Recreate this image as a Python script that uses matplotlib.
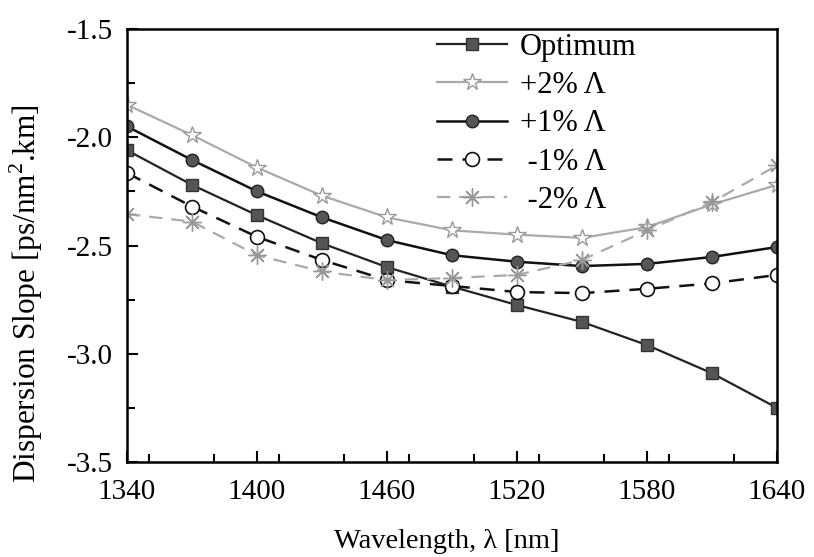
import numpy as np
import matplotlib.pyplot as plt
from matplotlib.ticker import MultipleLocator

plt.rcParams['font.family'] = ['Liberation Serif', 'DejaVu Serif']
plt.rcParams['axes.unicode_minus'] = False
plt.rcParams['mathtext.fontset'] = 'custom'
plt.rcParams['mathtext.rm'] = 'Liberation Serif'

# wavelength points [nm]
wl = [1340, 1370, 1400, 1430, 1460, 1490, 1520, 1550, 1580, 1610, 1640]

# dispersion slope [ps/nm^2.km]
optimum = [-2.06, -2.22, -2.36, -2.49, -2.60, -2.69, -2.775, -2.853, -2.96, -3.09, -3.25]
plus2 = [-1.85, -1.99, -2.14, -2.27, -2.37, -2.43, -2.45, -2.465, -2.415, -2.31, -2.22]
plus1 = [-1.95, -2.105, -2.25, -2.37, -2.475, -2.545, -2.575, -2.595, -2.585, -2.553, -2.507]
minus1 = [-2.165, -2.32, -2.46, -2.567, -2.66, -2.687, -2.715, -2.72, -2.70, -2.675, -2.636]
minus2 = [-2.355, -2.39, -2.545, -2.62, -2.66, -2.65, -2.636, -2.567, -2.43, -2.30, -2.13]

xticks = [1340, 1400, 1460, 1520, 1580, 1640]
yticks = [-3.5, -3.0, -2.5, -2.0, -1.5]

fig = plt.figure(figsize=(8.14, 5.57), dpi=100)
ax = fig.add_axes([127/814, 1 - 462/557, 650/814, 433/557])

ax.plot(wl, optimum, '-', color='#222222', lw=1.6, marker='s', ms=8,
        mfc='#555555', mec='#333333', label='Optimum')
ax.plot(wl, plus2, '-', color='#aaaaaa', lw=1.6, marker='*', ms=13,
        mfc='white', mec='#999999', mew=1.0, label='+2% Λ')
ax.plot(wl, plus1, '-', color='#111111', lw=1.8, marker='o', ms=9,
        mfc='#555555', mec='#222222', label='+1% Λ')
ax.plot(wl, minus1, '--', color='#111111', lw=1.8, dashes=(6, 4), marker='o', ms=10,
        mfc='white', mec='#111111', mew=1.2, label=' -1% Λ')
ax.plot(wl, minus2, '--', color='#aaaaaa', lw=1.6, dashes=(6, 4), marker=(8, 2, 0), ms=13,
        mec='#999999', mew=1.0, label=' -2% Λ')

ax.set_xlim(1340, 1640)
ax.set_ylim(-3.5, -1.5)
ax.set_xticks(xticks)
ax.set_yticks(yticks)
ax.set_yticklabels([f'{v:.1f}' for v in yticks])
ax.xaxis.set_minor_locator(MultipleLocator(30))
ax.yaxis.set_minor_locator(MultipleLocator(0.25))
ax.tick_params(which='both', direction='in', top=False, right=False, width=1.5,
               labelsize=21)
ax.tick_params(axis='x', pad=12)
ax.tick_params(axis='y', pad=10)
ax.tick_params(which='major', length=8)
ax.tick_params(which='minor', length=6)
for s in ax.spines.values():
    s.set_linewidth(1.8)

fig.text(447/814, 1 - 541/557, 'Wavelength, λ [nm]', fontsize=20.5, ha='center', va='center')
fig.text(26/814, 1 - 294/557, 'Dispersion Slope [ps/nm$^2$.km]', fontsize=22.5,
         rotation=90, ha='center', va='center')

ax.legend(loc='upper left', bbox_to_anchor=(437/814, 1 - 33/557), bbox_transform=fig.transFigure,
          frameon=False, fontsize=22, handlelength=2.3, handletextpad=0.4,
          labelspacing=0.3, borderpad=0, borderaxespad=0)

fig.savefig('out.png', dpi=100)
